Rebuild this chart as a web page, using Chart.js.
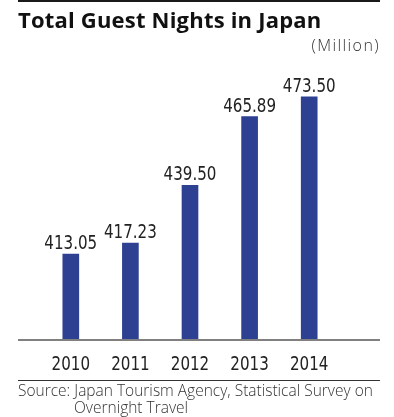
<!DOCTYPE html>
<html>
<head>
<meta charset="utf-8">
<script src="https://cdn.jsdelivr.net/npm/chart.js@4"></script>
<style>
  body { margin: 0; width: 394px; height: 417px; background: #fff; position: relative; overflow: hidden; }
  #chartBox { position: absolute; left: 0; top: 0; width: 394px; height: 417px; }
  .topRule { position: absolute; left: 18px; top: 0; width: 362px; height: 2px; background: #1a1a1a; }
  .title { position: absolute; left: 18px; top: 4px; font: 700 22px "Open Sans", sans-serif; letter-spacing: 0.2px; color: #111; white-space: nowrap; }
  .unit { position: absolute; right: 14px; top: 34px; font: 300 16px "Open Sans", sans-serif; letter-spacing: 1.4px; color: #333; }
  .srcRule { position: absolute; left: 18px; top: 380px; width: 362px; height: 1px; background: #333; }
  .source { position: absolute; left: 18px; top: 382px; width: 376px; font: 300 15.5px/17px "Open Sans", sans-serif; color: #333; white-space: nowrap; }
  .source span { display: block; padding-left: 56px; }
</style>
</head>
<body>
<div id="chartBox"><canvas id="guestChart" width="394" height="417"></canvas></div>
<div class="topRule"></div>
<div class="title">Total Guest Nights in Japan</div>
<div class="unit">(Million)</div>
<div class="srcRule"></div>
<div class="source">Source: Japan Tourism Agency, Statistical Survey on<span>Overnight Travel</span></div>

<script>
// Guest nights, million
const years = ['2010', '2011', '2012', '2013', '2014'];
const guestNights = [413.05, 417.23, 439.50, 465.89, 473.50];
const valueLabels = ['413.05', '417.23', '439.50', '465.89', '473.50'];

const condensedFont = '20px "DejaVu Sans Condensed", "DejaVu Sans", sans-serif';

// narrow text: squeeze the condensed font a bit more
function narrowText(ctx, text, x, y, squeeze) {
    ctx.save();
    ctx.translate(x, y);
    ctx.scale(squeeze, 1);
    ctx.fillText(text, 0, 0);
    ctx.restore();
}

// Values above the bars, years below the baseline
const barText = {
    id: 'barText',
    afterDatasetsDraw(chart) {
        const ctx = chart.ctx;
        const meta = chart.getDatasetMeta(0);
        const xScale = chart.scales.x;
        ctx.save();
        ctx.font = condensedFont;
        ctx.fillStyle = '#222';
        ctx.textAlign = 'center';
        ctx.textBaseline = 'alphabetic';
        meta.data.forEach((bar, i) => {
            narrowText(ctx, valueLabels[i], bar.x, bar.y - 5, 0.84);
        });
        years.forEach((yr, i) => {
            narrowText(ctx, yr, xScale.getPixelForValue(i), 370, 0.84);
        });
        ctx.restore();
    }
};

// Baseline running the full width
const baseLine = {
    id: 'baseLine',
    afterDatasetsDraw(chart) {
        const ctx = chart.ctx;
        const y = chart.chartArea.bottom;
        ctx.save();
        ctx.strokeStyle = '#808080';
        ctx.lineWidth = 2;
        ctx.beginPath();
        ctx.moveTo(18, y);
        ctx.lineTo(380, y);
        ctx.stroke();
        ctx.restore();
    }
};

new Chart(document.getElementById('guestChart'), {
    type: 'bar',
    data: {
        labels: years,
        datasets: [{
            data: guestNights,
            backgroundColor: '#2d4092',
            barThickness: 16
        }]
    },
    options: {
        responsive: false,
        animation: false,
        layout: { padding: { left: 41, right: 55, top: 28, bottom: 77 } },
        plugins: {
            legend: { display: false },
            tooltip: { enabled: false }
        },
        scales: {
            x: { display: false },
            y: {
                display: false,
                min: 380,
                max: 500
            }
        }
    },
    plugins: [barText, baseLine]
});
</script>
</body>
</html>
